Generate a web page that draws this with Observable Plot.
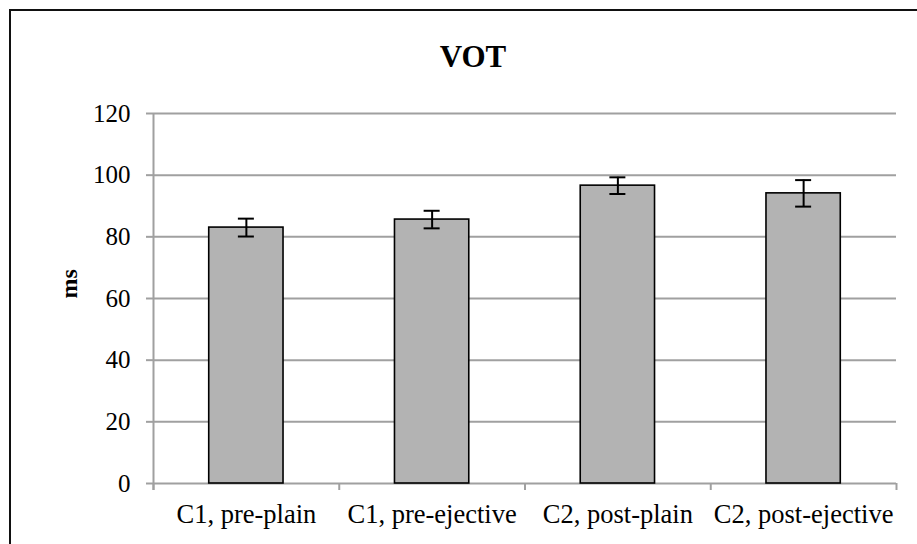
<!DOCTYPE html>
<html><head><meta charset="utf-8">
<script src="https://cdn.jsdelivr.net/npm/d3@7"></script>
<script src="https://cdn.jsdelivr.net/npm/@observablehq/plot@0.6"></script>
<style>
body{margin:0;background:#fff;}
#wrap{position:relative;width:917px;height:544px;overflow:hidden;background:#fff;}
#border{position:absolute;left:9px;top:9px;width:960px;height:600px;border:2px solid #111;box-sizing:border-box;}
#chart{position:absolute;left:0;top:0;}
</style></head><body><div id="wrap"><div id="border"></div><div id="chart"></div></div>
<script>
const categories = ["C1, pre-plain", "C1, pre-ejective", "C2, post-plain", "C2, post-ejective"];
const means = [83.0, 85.6, 96.6, 94.1];
const errors = [2.9, 2.85, 2.7, 4.3];
const yTicks = [0, 20, 40, 60, 80, 100, 120];
const title = "VOT";
const yLabel = "ms";

const data = categories.map((c, i) => ({cat: c, i, mean: means[i], err: errors[i]}));
const boundaries = d3.range(categories.length + 1);
const centers = categories.map((c, i) => i + 0.5);
const gray = "#a0a0a0";
const serif = "'Liberation Serif', 'Times New Roman', serif";

const chart = Plot.plot({
  width: 917, height: 544,
  marginLeft: 153, marginRight: 21, marginTop: 113, marginBottom: 61,
  style: {fontFamily: serif, fontSize: "25px", color: "#000", background: "transparent"},
  x: {type: "linear", domain: [0, categories.length], axis: null},
  y: {domain: [0, 120], axis: null},
  marks: [
    Plot.ruleY(yTicks, {stroke: gray, strokeWidth: 2}),
    Plot.ruleX([0], {stroke: gray, strokeWidth: 2, insetBottom: -7}),
    Plot.axisY({ticks: yTicks, tickSize: 7, tickPadding: 16, stroke: gray, strokeWidth: 2, fill: "#000", fontSize: 25, label: null}),
    Plot.axisX({ticks: boundaries, tickSize: 7, tickFormat: () => "", stroke: gray, strokeWidth: 2, label: null}),
    Plot.axisX({ticks: centers, tickSize: 0, tickPadding: 21, tickFormat: d => categories[Math.floor(d)], fill: "#000", fontSize: 26.5, label: null}),
    Plot.rectY(data, {x1: d => d.i + 0.3, x2: d => d.i + 0.7, y: "mean", fill: "#b3b3b3", stroke: "#000", strokeWidth: 1.6}),
    Plot.ruleX(data, {x: d => d.i + 0.5, y1: d => d.mean - d.err, y2: d => d.mean + d.err, stroke: "#000", strokeWidth: 2}),
    Plot.ruleY(data, {y: d => d.mean + d.err, x1: d => d.i + 0.5, x2: d => d.i + 0.5, insetLeft: -8, insetRight: -8, stroke: "#000", strokeWidth: 2}),
    Plot.ruleY(data, {y: d => d.mean - d.err, x1: d => d.i + 0.5, x2: d => d.i + 0.5, insetLeft: -8, insetRight: -8, stroke: "#000", strokeWidth: 2}),
    Plot.text([title], {frameAnchor: "top", lineAnchor: "middle", dx: -52, dy: -56, fontSize: 31, fontWeight: "bold", fontFamily: serif, fill: "#000"}),
    Plot.text([yLabel], {frameAnchor: "left", lineAnchor: "middle", dx: -84, rotate: -90, fontSize: 24, fontWeight: "bold", fontFamily: serif, fill: "#000"})
  ]
});
document.getElementById("chart").appendChild(chart);
</script>
</body></html>
